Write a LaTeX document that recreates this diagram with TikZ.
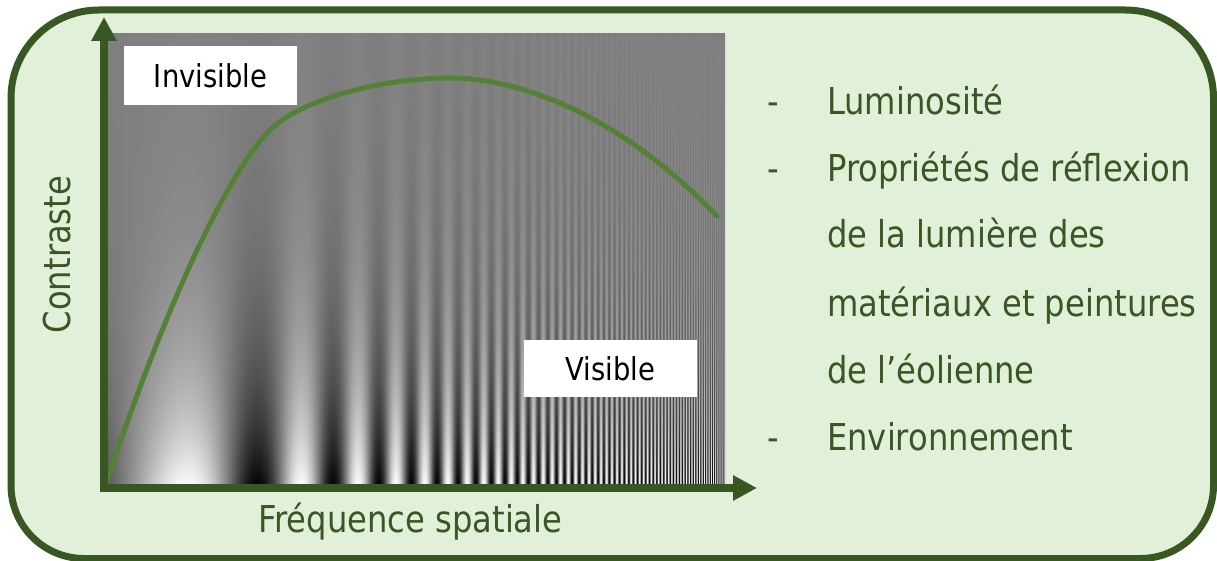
\documentclass[tikz,border=0pt]{standalone}
\usepackage{fontspec}
\setmainfont{DejaVu Sans}[FakeStretch=0.87]
\usetikzlibrary{arrows.meta}
\definecolor{dkgreen}{HTML}{385723}
\definecolor{bgfill}{HTML}{E2F0D9}
\definecolor{curvegreen}{HTML}{548235}
\pgfdeclarefunctionalshading{crs}{\pgfpointorigin}{\pgfpoint{622bp}{455bp}}{}{
  -0.009 mul 2.71828 exch exp
  exch
  0.0085 mul 2.71828 exch exp 108 mul 130 sub sin
  mul 0.5 mul 0.5 add dup dup
}
\begin{document}
\begin{tikzpicture}[x=1bp,y=-1bp,
  outerframe/.style={draw=dkgreen, line width=7bp, fill=bgfill},
  axisline/.style={draw=dkgreen, line width=7.5bp, line join=miter,
    {Triangle[length=24bp,width=24bp]}-{Triangle[length=24bp,width=24bp]}},
  bigtext/.style={font=\fontsize{37bp}{44bp}\selectfont, text=dkgreen, inner sep=0pt},
  tagbox/.style={fill=white, font=\fontsize{31.5bp}{38bp}\selectfont, text=black, inner sep=0pt},
  curveline/.style={draw=curvegreen, line width=5bp, line cap=round}
]
\useasboundingbox (0,0) rectangle (1217,561);
\draw[outerframe] (11,98) .. controls (11,49.4) and (50.4,10) .. (99,10)
  -- (1125.5,10) .. controls (1174.1,10) and (1213.5,49.4) .. (1213.5,98)
  -- (1213.5,485.5) .. controls (1213.5,525.8) and (1180.8,558.5) .. (1140.5,558.5)
  -- (84,558.5) .. controls (43.7,558.5) and (11,525.8) .. (11,485.5) -- cycle;

% contrast sensitivity chart
\node[inner sep=0pt, outer sep=0pt, anchor=south west] (chart) at (103,488) {\pgfuseshading{crs}};

% curve
\coordinate (c0) at (105,487);
\coordinate (c1) at (270,130);
\coordinate (c2) at (450,78);
\coordinate (c3) at (717,216);
\draw[curveline] (c0) .. controls (160,320) and (225,175) .. (c1)
  .. controls (300,100) and (380,78) .. (c2)
  .. controls (520,78) and (620,115) .. (c3);

% axes
\coordinate (ytip) at (104,17);
\coordinate (origin) at (104,488);
\coordinate (xtip) at (757,488);
\draw[axisline] (ytip) -- (origin) -- (xtip);

% labels in the chart
\node[tagbox, minimum width=173bp, minimum height=59bp] (inv) at (210.5,75.5) {Invisible};
\node[tagbox, minimum width=173bp, minimum height=57bp] (vis) at (610.5,368.5) {Visible};

% axis titles
\node[bigtext, anchor=base west] (xlab) at (258,532) {Fréquence spatiale};
\node[bigtext, rotate=90, anchor=base] (ylab) at (70,254.5) {Contraste};

% list
\node[bigtext, anchor=base] (d1) at (773,115) {-};
\node[bigtext, anchor=base west] (t1) at (827,115) {Luminosité};
\node[bigtext, anchor=base] (d2) at (773,182) {-};
\node[bigtext, anchor=base west] (t2) at (827,182) {Propriétés de réflexion};
\node[bigtext, anchor=base west] (t3) at (827,248) {de la lumière des};
\node[bigtext, anchor=base west] (t4) at (827,317) {matériaux et peintures};
\node[bigtext, anchor=base west] (t5) at (827,384) {de l’éolienne};
\node[bigtext, anchor=base] (d3) at (773,450) {-};
\node[bigtext, anchor=base west] (t6) at (827,450) {Environnement};
\end{tikzpicture}
\end{document}
